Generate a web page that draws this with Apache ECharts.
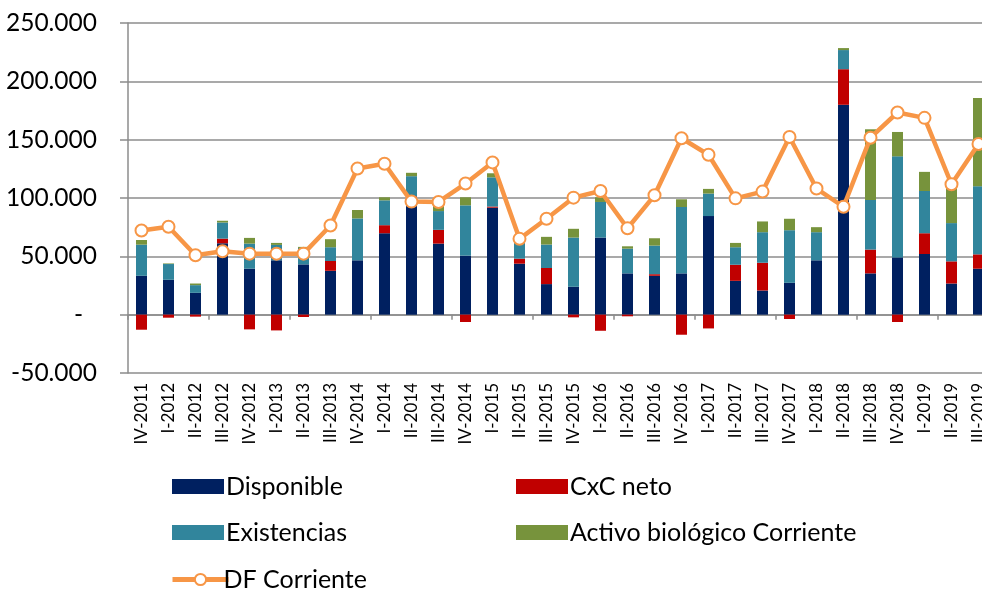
<!DOCTYPE html>
<html>
<head>
<meta charset="utf-8">
<script src="https://cdn.jsdelivr.net/npm/echarts@6/dist/echarts.min.js"></script>
<style>
  html, body { margin: 0; padding: 0; background: #fff; }
  #chart { width: 982px; height: 591px; }
</style>
</head>
<body>
<div id="chart"></div>
<script>
const categories = [
  "IV-2011", "I-2012", "II-2012", "III-2012", "IV-2012", "I-2013", "II-2013", "III-2013",
  "IV-2014", "I-2014", "II-2014", "III-2014", "IV-2014", "I-2015", "II-2015", "III-2015",
  "IV-2015", "I-2016", "II-2016", "III-2016", "IV-2016", "I-2017", "II-2017", "III-2017",
  "IV-2017", "I-2018", "II-2018", "III-2018", "IV-2018", "I-2019", "II-2019", "III-2019",
];

const disponible = [
  33300, 29900, 18700, 61200, 39400, 46600, 43100, 37600,
  46600, 69800, 100000, 60900, 50600, 91700, 43700, 26200,
  23900, 66100, 35400, 33300, 35400, 84500, 29000, 20700,
  27300, 46600, 179900, 35400, 49100, 52000, 26700, 39400,
];
const cxcNeto = [
  -12900, -2600, -1700, 4000, -12600, -13500, -2000, 8400,
  0, 6900, 1500, 11800, -6300, 1000, 4300, 13800,
  -2300, -13800, -1400, 1400, -17200, -11800, 13800, 23800,
  -3700, 0, 30500, 20400, -6300, 17800, 19000, 12300,
];
const existencias = [
  26700, 13500, 6600, 13800, 21500, 13200, 14100, 11800,
  35900, 21300, 17200, 16100, 43100, 25000, 14700, 20100,
  42200, 30500, 21200, 24500, 56900, 19300, 15000, 26200,
  45100, 24100, 16400, 42500, 86600, 36200, 32800, 58400,
];
const activoBiologico = [
  4000, 500, 1400, 1500, 4900, 1700, 900, 6900,
  7200, 2600, 2900, 5500, 6900, 3500, 1000, 6600,
  7500, 4000, 2000, 6300, 6600, 4000, 3700, 9200,
  9800, 4300, 1700, 60600, 20900, 16400, 33000, 75600,
];
const dfCorriente = [
  72100, 75300, 50900, 54300, 52300, 52300, 52300, 76400,
  125300, 129300, 96900, 96600, 112400, 130500, 65000, 82200,
  100300, 106000, 74100, 102300, 151200, 137100, 99700, 105500,
  152300, 108100, 92500, 151700, 173300, 168700, 111800, 146300,
];

const fontFamily = "Lato, 'Open Sans', sans-serif";
const gridColor = "#8c8c8c";
const orange = "#f79646";

const formatThousands = (v) => {
  if (v === 0) return "{z|-}";
  return String(v).replace(/\B(?=(\d{3})+(?!\d))/g, ".");
};

const barSeries = (name, data, color) => ({
  name,
  type: "bar",
  stack: "total",
  barWidth: 11,
  data,
  itemStyle: { color },
  emphasis: { disabled: true },
});

const legendText = { fontFamily, fontSize: 25, color: "#000", padding: [0, 0, 0, -3] };

const barLegend = (name, left, top) => ({
  data: [name],
  left,
  top,
  icon: "rect",
  itemWidth: 52,
  itemHeight: 15,
  itemGap: 0,
  textStyle: legendText,
  selectedMode: false,
});

const chart = echarts.init(document.getElementById("chart"));
chart.setOption({
  animation: false,
  textStyle: { fontFamily },
  grid: { left: 128, width: 864, top: 23, bottom: 218, outerBoundsMode: "none" },
  legend: [
    barLegend("Disponible", 167, 469),
    barLegend("CxC neto", 511, 469),
    barLegend("Existencias", 167, 515),
    barLegend("Activo biológico Corriente", 511, 515),
    {
      data: ["DF Corriente"],
      left: 165,
      top: 562,
      itemWidth: 56,
      itemHeight: 14,
      itemGap: 0,
      textStyle: { ...legendText, padding: [0, 0, 0, -10] },
      selectedMode: false,
      itemStyle: { color: "#fff", borderColor: orange, borderWidth: 2 },
      lineStyle: { color: orange, width: 5 },
    },
  ],
  xAxis: [
    {
      type: "category",
      data: categories,
      position: "bottom",
      axisLine: { show: false, onZero: false },
      axisTick: { show: false },
      axisLabel: {
        rotate: 90,
        interval: 0,
        margin: 10,
        fontFamily,
        fontSize: 17,
        color: "#000",
      },
    },
    {
      type: "category",
      data: categories,
      position: "bottom",
      axisLine: { show: true, onZero: true, lineStyle: { color: gridColor, width: 1.5 } },
      axisTick: { show: true, length: 5, lineStyle: { color: gridColor, width: 1.5 } },
      axisLabel: { show: false },
    },
  ],
  yAxis: {
    type: "value",
    min: -50000,
    max: 250000,
    interval: 50000,
    axisLine: { show: true, lineStyle: { color: gridColor, width: 1.5 } },
    axisTick: { show: true, length: 8, lineStyle: { color: gridColor, width: 1.5 } },
    splitLine: { lineStyle: { color: gridColor, width: 1.5 } },
    axisLabel: {
      formatter: formatThousands,
      margin: 31,
      fontFamily,
      fontSize: 24.5,
      color: "#000",
      rich: { z: { fontFamily, fontSize: 24.5, color: "#000", padding: [0, 14, 0, 0] } },
    },
  },
  series: [
    barSeries("Disponible", disponible, "#002060"),
    barSeries("CxC neto", cxcNeto, "#c00000"),
    barSeries("Existencias", existencias, "#31859c"),
    barSeries("Activo biológico Corriente", activoBiologico, "#77933c"),
    {
      name: "DF Corriente",
      type: "line",
      data: dfCorriente,
      z: 5,
      symbol: "circle",
      symbolSize: 12,
      lineStyle: { color: orange, width: 4.5 },
      itemStyle: { color: "#fff", borderColor: orange, borderWidth: 2 },
      emphasis: { disabled: true },
    },
  ],
});
</script>
</body>
</html>
